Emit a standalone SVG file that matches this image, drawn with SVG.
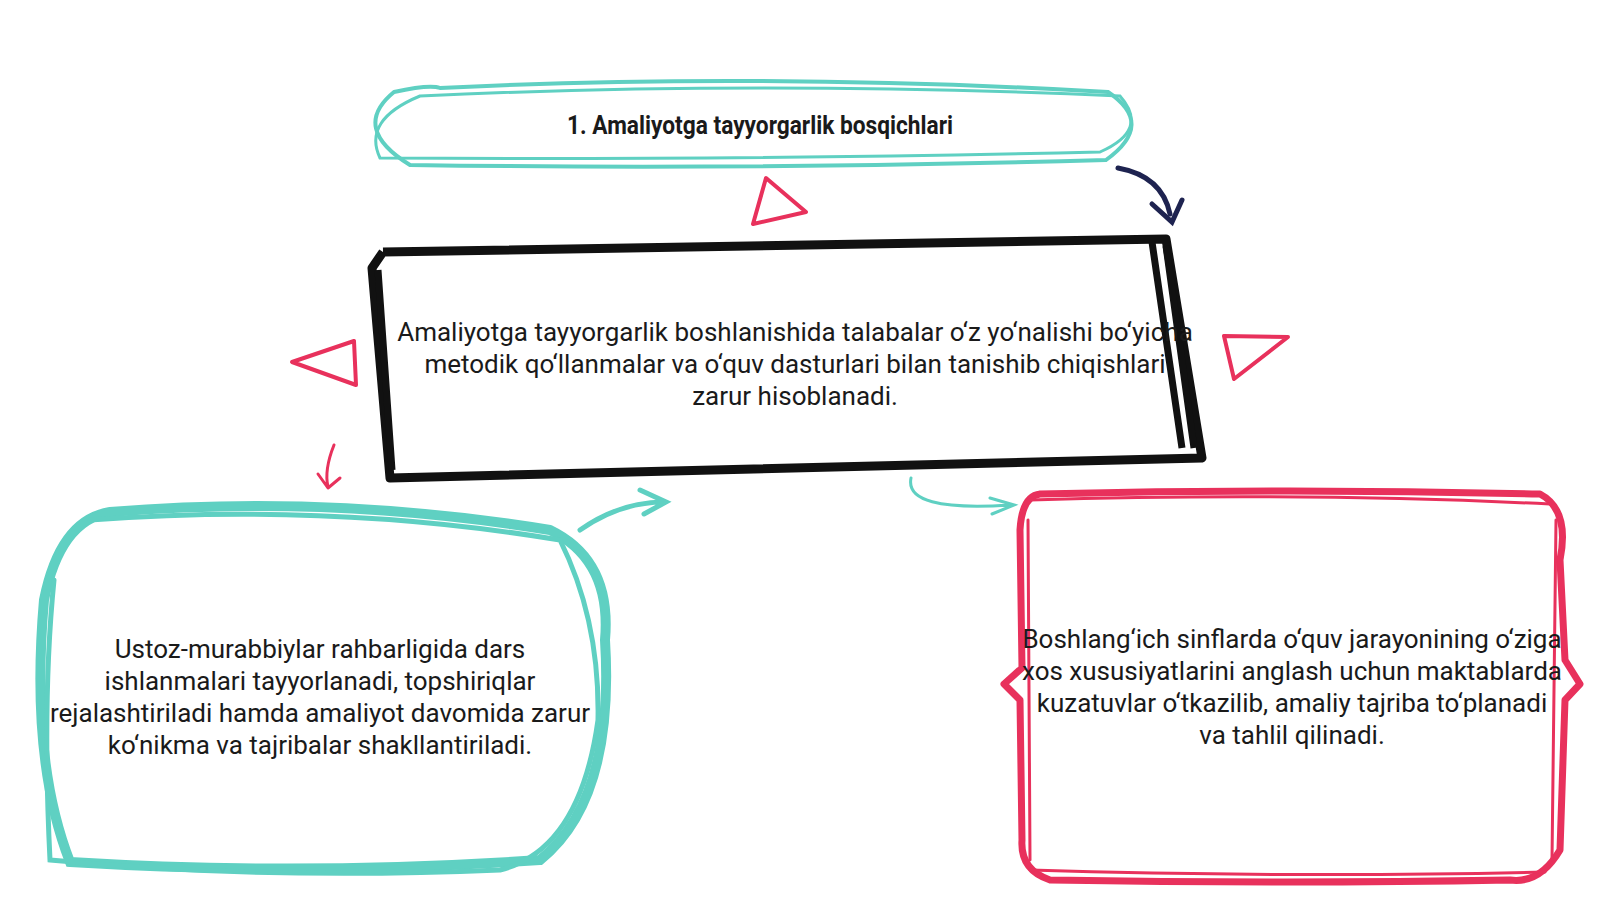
<svg xmlns="http://www.w3.org/2000/svg" width="1600" height="900" viewBox="0 0 1600 900">
<style>
.t{font-family:Roboto,"Noto Sans",sans-serif;font-size:26px;fill:#1a1a1a;text-anchor:middle}
.h{font-family:Roboto,"Noto Sans",sans-serif;font-size:25px;font-weight:bold;fill:#1a1a1a;text-anchor:middle}
.teal{fill:none;stroke:#5fd0c2;stroke-linecap:round}
.red{fill:none;stroke:#e8315c;stroke-linecap:round;stroke-linejoin:round}
</style>
<rect width="1600" height="900" fill="#fff"/>
<g id="connectors">
<path d="M1118 168 Q1162 176 1170 214" fill="none" stroke="#1e2350" stroke-width="5" stroke-linecap="round"/>
<path d="M1152 204 L1172 222 L1182 200" fill="none" stroke="#1e2350" stroke-width="5" stroke-linecap="round"/>
<path class="red" stroke-width="4" d="M766 178 L753 224 L806 212 Z"/>
<path class="red" stroke-width="4" d="M292 362 L354 341 L356 385 Z"/>
<path class="red" stroke-width="4" d="M1224 336 L1288 337 L1234 379 Z"/>
<path class="red" stroke-width="3" d="M334 445 Q324 470 328 487 M318 474 L328 488 L340 478"/>
<path class="teal" stroke-width="5" d="M580 530 Q620 502 664 502 M640 490 L666 502 L644 514"/>
<path class="teal" stroke-width="3" d="M911 478 Q904 512 1010 505 M990 498 L1014 505 L992 514"/>
</g>
<g id="n1">
<path class="teal" stroke-width="4" d="M440 88 Q760 72 1108 92 Q1156 124 1106 160 Q760 170 410 165 Q350 128 394 92 Q430 84 440 88"/>
<path class="teal" stroke-width="3" d="M420 96 Q760 80 1120 96 Q1150 130 1100 152 Q760 160 380 158 Q362 120 420 96"/>
<text class="h" x="760" y="134" textLength="386" lengthAdjust="spacingAndGlyphs">1. Amaliyotga tayyorgarlik bosqichlari</text>
</g>
<g id="n2">
<path d="M383 252 L1166 239 L1202 458 L390 478 L372 268 L383 252" fill="none" stroke="#111" stroke-width="9" stroke-linejoin="round"/>
<path d="M1152 242 L1182 448 M1166 246 L1194 448 M378 270 L392 470" fill="none" stroke="#111" stroke-width="7"/>
<text class="t" x="795" y="341">Amaliyotga tayyorgarlik boshlanishida talabalar o‘z yo‘nalishi bo‘yicha</text>
<text class="t" x="795" y="373">metodik qo‘llanmalar va o‘quv dasturlari bilan tanishib chiqishlari</text>
<text class="t" x="795" y="405">zarur hisoblanadi.</text>
</g>
<g id="n3">
<path class="teal" stroke-width="10" d="M110 512 Q330 494 550 530 Q612 560 605 640 Q615 800 540 860 Q300 876 70 862 Q30 760 44 600 Q60 520 110 512"/>
<path class="teal" stroke-width="5" d="M90 520 Q330 502 560 540 Q600 620 598 720 Q580 850 500 870 Q260 880 50 860 Q42 700 54 580"/>
<text class="t" x="320" y="658">Ustoz-murabbiylar rahbarligida dars</text>
<text class="t" x="320" y="690">ishlanmalari tayyorlanadi, topshiriqlar</text>
<text class="t" x="320" y="722">rejalashtiriladi hamda amaliyot davomida zarur</text>
<text class="t" x="320" y="754">ko‘nikma va tajribalar shakllantiriladi.</text>
</g>
<g id="n4">
<path class="red" stroke-width="7" d="M1040 494 Q1290 488 1540 494 Q1570 510 1560 560 L1565 660 L1580 684 L1565 700 L1560 850 Q1540 884 1510 880 Q1290 884 1050 880 Q1020 870 1022 840 L1020 700 L1004 684 L1022 668 L1020 530 Q1022 496 1040 494"/>
<path class="red" stroke-width="3" d="M1030 500 Q1300 492 1550 504 M1030 870 Q1300 878 1545 872 M1028 520 L1030 860 M1556 520 L1552 860"/>
<text class="t" x="1292" y="648">Boshlang‘ich sinflarda o‘quv jarayonining o‘ziga</text>
<text class="t" x="1292" y="680">xos xususiyatlarini anglash uchun maktablarda</text>
<text class="t" x="1292" y="712">kuzatuvlar o‘tkazilib, amaliy tajriba to‘planadi</text>
<text class="t" x="1292" y="744">va tahlil qilinadi.</text>
</g>
</svg>
